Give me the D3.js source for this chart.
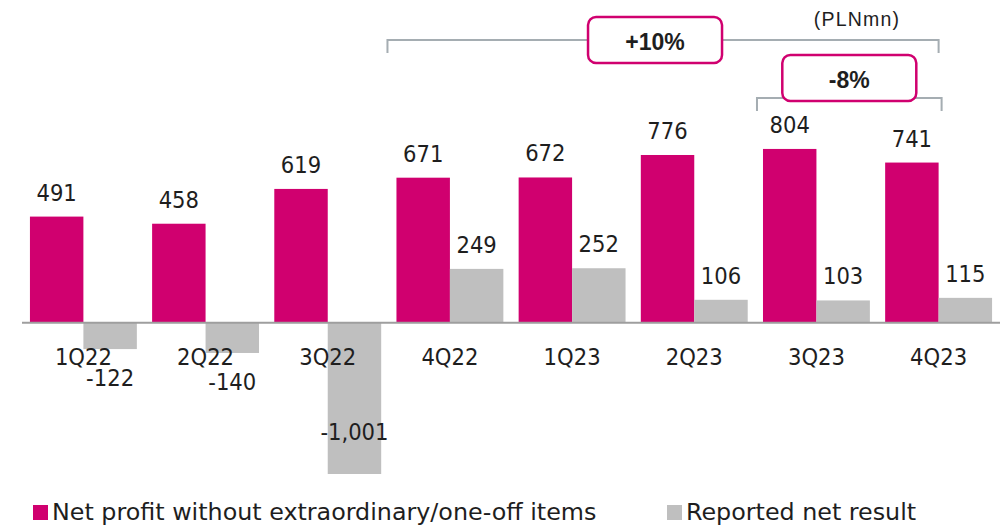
<!DOCTYPE html>
<html>
<head>
<meta charset="utf-8">
<script src="https://cdn.jsdelivr.net/npm/d3@7"></script>
<style>
  body { margin: 0; background: #fff; }
  svg { display: block; }
  text { fill: #1e1e1e; }
</style>
</head>
<body>
<div id="chart"></div>
<script>
var quarters = ['1Q22', '2Q22', '3Q22', '4Q22', '1Q23', '2Q23', '3Q23', '4Q23']
var seriesNames = ['Net profit without extraordinary/one-off items', 'Reported net result']
var adjusted = [491, 458, 619, 671, 672, 776, 804, 741]
var reported = [-122, -140, -1001, 249, 252, 106, 103, 115]
var changes = [
  {from: '4Q22', to: '4Q23', label: '+10%'},
  {from: '3Q23', to: '4Q23', label: '-8%'}
]
var unitLabel = '(PLNmn)'

var colors = ['#d0006f', '#bfbfbf']
var width = 1007, height = 526

var svg = d3.select('#chart').append('svg')
  .attr('width', width)
  .attr('height', height)

var rows = quarters.map((q, i) => ({q, values: [adjusted[i], reported[i]]}))

var x = d3.scaleBand()
  .domain(quarters)
  .range([22, 1000])
  .paddingInner(0.125)
  .paddingOuter(0.065)

var x1 = d3.scaleBand()
  .domain(d3.range(seriesNames.length))
  .range([0, x.bandwidth()])

// the -1,001 bar is cut off at the bottom in the original, so clamp it
var y = d3.scaleLinear()
  .domain([-700, 850])
  .range([474, 139])
  .clamp(true)

var numFont = '"DejaVu Sans Condensed", "DejaVu Sans", sans-serif'
// plain hyphen for negatives, like the original
var fmt = d3.formatLocale({decimal: '.', thousands: ',', grouping: [3], currency: ['', ''], minus: '-'}).format(',')

var groups = svg.append('g').selectAll('g')
  .data(rows)
  .join('g')
  .attr('transform', d => `translate(${x(d.q)},0)`)

var cells = groups.selectAll('g')
  .data(d => d.values.map((v, i) => ({v, i})))
  .join('g')

cells.append('rect')
  .attr('x', d => x1(d.i))
  .attr('width', x1.bandwidth())
  .attr('y', d => Math.min(y(d.v), y(0)))
  .attr('height', d => Math.abs(y(d.v) - y(0)))
  .attr('fill', d => colors[d.i])

cells.append('text')
  .attr('x', d => x1(d.i) + x1.bandwidth()/2)
  .attr('y', d => {
    if (d.v >= 0) return y(d.v) - 16
    if (d.v < y.domain()[0]) return y.range()[0] - 34
    return y(d.v) + 37
  })
  .attr('text-anchor', 'middle')
  .style('font-family', numFont)
  .style('font-size', '23.5px')
  .text(d => fmt(d.v))

// zero line
svg.append('line')
  .attr('x1', x.range()[0])
  .attr('x2', x.range()[1])
  .attr('y1', y(0))
  .attr('y2', y(0))
  .attr('stroke', '#9e9e9e')
  .attr('stroke-width', 2)

// category labels
svg.append('g').selectAll('text')
  .data(quarters)
  .join('text')
  .attr('x', d => x(d) + x.bandwidth()/2)
  .attr('y', y(0) + 42)
  .attr('text-anchor', 'middle')
  .style('font-family', numFont)
  .style('font-size', '23.5px')
  .text(d => d)

svg.append('text')
  .attr('x', 857)
  .attr('y', 26)
  .attr('text-anchor', 'middle')
  .style('font-family', '"Liberation Sans", Arial, sans-serif')
  .style('font-size', '19.5px')
  .style('letter-spacing', '1.2px')
  .text(unitLabel)

// change brackets with boxed labels
var bracketY = [40, 98]
var boxNudge = [-8, 0]
var boxW = 134, boxH = 46

changes.forEach((c, i) => {
  var left = x(c.from) - (i ? 6 : 9)
  var right = x(c.to) + x1.bandwidth() + (i ? 3 : 0)
  var by = bracketY[i]
  var g = svg.append('g')

  g.append('path')
    .attr('d', `M${left},${by + 13}V${by}H${right}V${by + 13}`)
    .attr('fill', 'none')
    .attr('stroke', '#a5adb2')
    .attr('stroke-width', 2)

  var cx = (left + right)/2 + boxNudge[i]
  var cy = by - (i ? 20 : 0)
  g.append('rect')
    .attr('x', cx - boxW/2)
    .attr('y', cy - boxH/2)
    .attr('width', boxW)
    .attr('height', boxH)
    .attr('rx', 8)
    .attr('fill', '#fff')
    .attr('stroke', colors[0])
    .attr('stroke-width', 2.5)

  g.append('text')
    .attr('x', cx)
    .attr('y', cy + 10)
    .attr('text-anchor', 'middle')
    .style('font-family', '"Liberation Sans", Arial, sans-serif')
    .style('font-weight', 'bold')
    .style('font-size', '23px')
    .text(c.label)
})

// legend
var legendX = [33, 667]
var legend = svg.append('g').selectAll('g')
  .data(seriesNames)
  .join('g')
  .attr('transform', (d, i) => `translate(${legendX[i]},505)`)

legend.append('rect')
  .attr('width', 15)
  .attr('height', 15)
  .attr('fill', (d, i) => colors[i])

legend.append('text')
  .attr('x', 19)
  .attr('y', 15)
  .style('font-family', '"DejaVu Sans", sans-serif')
  .style('font-size', '23.8px')
  .text(d => d)
</script>
</body>
</html>
